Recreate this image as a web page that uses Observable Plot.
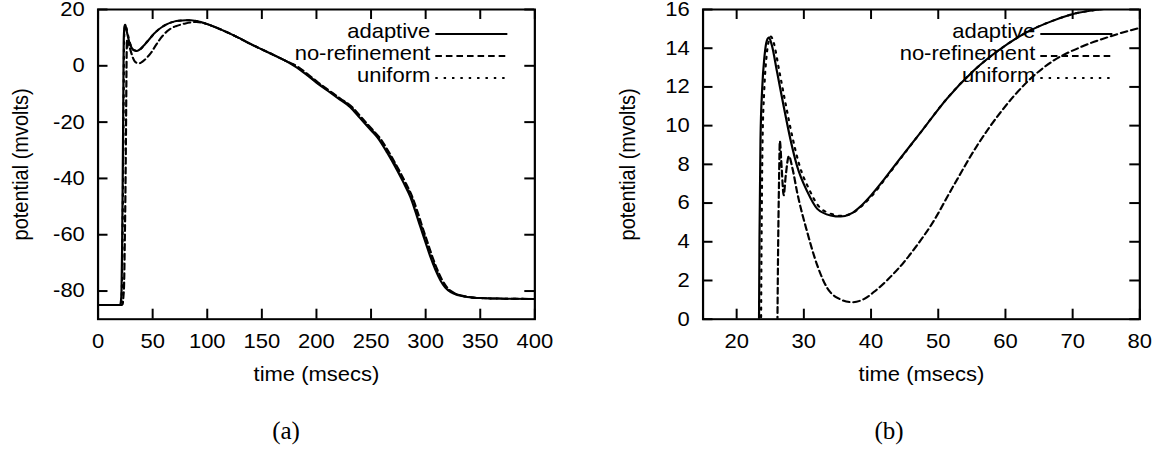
<!DOCTYPE html>
<html><head><meta charset="utf-8">
<script src="https://cdn.jsdelivr.net/npm/d3@7"></script>
<script src="https://cdn.jsdelivr.net/npm/@observablehq/plot@0.6"></script>
<style>
html,body{margin:0;padding:0;background:#fff;}
#wrap{position:relative;width:1168px;height:455px;overflow:hidden;background:#fff;}
.panel{position:absolute;top:0;}
.cap{position:absolute;font-family:"Liberation Serif","DejaVu Serif",serif;font-size:25px;color:#000;transform:translate(-50%,-50%);line-height:1;white-space:nowrap;}
</style></head><body>
<div id="wrap"></div>
<script>
// ---- data ----
const seriesNames = ["adaptive", "no-refinement", "uniform"];

const adaptiveT = [0,19,20.3,21,21.5,22,22.5,23,23.3,23.4,23.55,23.8,24.15,24.5,24.8,25.2,26,27,28,29,30.5,32,34,35.5,37,38.5,40,42,44,47.4,51.3,55.3,59.3,63.2,67.2,70.2,74,80,85,90,100,110,120,130,140,150,160,170,180,190,200,210,220,231,240,250,256,265,274,280,286,290,295,300,304.5,309,313.5,318,323,330,338,350,370,400];
const adaptiveV = [-85,-85,-84.8,-83.5,-80,-66,-45,-20,-2,4.2,9.3,11.9,13.6,14.4,14.55,14.2,12.8,11.0,9.3,7.9,6.6,5.7,5.36,5.3,5.45,5.85,6.4,7.25,8.15,9.66,11.4,12.85,13.97,14.83,15.44,15.78,16.0,16.15,16.15,15.9,14.8,13.3,11.6,9.7,7.7,5.8,4.0,2.1,-0.1,-2.9,-6.0,-8.8,-11.6,-14.7,-18.6,-22.9,-25.5,-31,-37.2,-41.7,-46.6,-51,-57,-62.8,-68,-72.5,-76.2,-78.8,-80.4,-81.5,-82.1,-82.5,-82.7,-82.8];

const noRefT = [0,21.5,22.5,23.2,23.8,24.5,25.2,25.7,26.05,26.15,26.3,26.43,26.7,27,27.3,27.77,28.3,29,30.5,32,33.5,35,37.2,39,40.4,42.5,44.9,46.8,48.9,52.3,55.8,59.3,63.2,67.2,71.2,75.5,80,85,90,95,100,110,120,130,140,150,160,170,181.8,191.8,201.8,211.8,221.8,232.8,241.8,251.8,257.8,266.8,275.8,281.8,287.8,291.8,296.8,301.8,306.3,310.8,315.3,319.8,324.8,331.8,339.8,351.8,371.8,400];
const noRefV = [-85,-85,-84.6,-82,-78,-62,-40,-18,-1,3,7,9.2,7.8,6.4,7.4,8.43,7.8,6.56,4.5,2.78,1.6,1.1,0.88,1.05,1.4,2.05,2.95,3.8,4.84,6.91,8.98,10.7,12.25,13.37,14.06,14.6,15.05,15.4,15.55,15.35,14.8,13.3,11.6,9.7,7.7,5.8,4.0,2.1,-0.1,-2.9,-6.0,-8.8,-11.6,-14.7,-18.6,-22.9,-25.5,-31,-37.2,-41.7,-46.6,-51,-57,-62.8,-68,-72.5,-76.2,-78.8,-80.4,-81.5,-82.1,-82.5,-82.7,-82.8];

const uniformT = [0,19.3,20.6,21.3,21.8,22.3,22.8,23.3,23.6,23.7,23.85,24.1,24.45,24.8,25.1,25.5,26.3,27.3,28.3,29.3,30.8,32.3,34.3,35.7,37.2,38.7,40.2,42,44,47.4,51.3,55.3,59.3,63.2,67.2,70.2,74,80,85,90,100,110,120,130,140,150,160,170,181,191,201,211,221,232,241,251,257,266,275,281,287,291,296,301,305.5,310,314.5,319,324,331,339,351,371,400];
const uniformV = [-85,-85,-84.8,-83.5,-80,-66,-45,-20,-2,4,9.2,11.8,13.6,14.4,14.6,14.3,12.9,11.1,9.4,8.0,6.7,5.8,5.42,5.34,5.47,5.87,6.4,7.2,8.12,9.66,11.4,12.85,13.97,14.83,15.44,15.78,16.0,16.15,16.15,15.9,14.8,13.3,11.6,9.7,7.7,5.8,4.0,2.1,-0.1,-2.9,-6.0,-8.8,-11.6,-14.7,-18.6,-22.9,-25.5,-31,-37.2,-41.7,-46.6,-51,-57,-62.8,-68,-72.5,-76.2,-78.8,-80.4,-81.5,-82.1,-82.5,-82.7,-82.8];

const panelAXTicks = [0,50,100,150,200,250,300,350,400];
const panelAYTicks = [-80,-60,-40,-20,0,20];
const panelBXTicks = [20,30,40,50,60,70,80];
const panelBYTicks = [0,2,4,6,8,10,12,14,16];
const xLabel = "time (msecs)";
const yLabel = "potential (mvolts)";
const captions = ["(a)", "(b)"];

// ---- table ----
const rows = [];
[[adaptiveT, adaptiveV, seriesNames[0]], [noRefT, noRefV, seriesNames[1]], [uniformT, uniformV, seriesNames[2]]]
  .forEach(([T, V, s]) => T.forEach((t, i) => rows.push({series: s, t, v: V[i]})));

const dashes = {"adaptive": null, "no-refinement": "6,3.6", "uniform": "2.2,5.4"};
const FONT = "'Liberation Sans', Arial, Helvetica, sans-serif";
const SX = 1.1, W = 584, H = 395, Wp = W / SX;

function panel({xDomain, yDomain, xTicks, yTicks, mLeft, mRight, yLabelDx}) {
  const mTop = 9, mBottom = H - 318.7;
  const plotW = Wp - mLeft - mRight, plotH = H - mTop - mBottom;
  const marks = [
    Plot.axisX(xTicks, {anchor: "bottom", tickSize: 0, tickPadding: 14.5, fontSize: 20, tickFormat: d => String(d), label: null}),
    Plot.axisY(yTicks, {anchor: "left", tickSize: 0, tickPadding: 12, fontSize: 20, tickFormat: d => String(d), label: null}),
    Plot.tickX(xTicks, {x: d => d, insetTop: plotH - 10, stroke: "#000", strokeWidth: 1.8}),
    Plot.tickX(xTicks, {x: d => d, insetBottom: plotH - 10, stroke: "#000", strokeWidth: 1.8}),
    Plot.tickY(yTicks, {y: d => d, insetRight: plotW - 10 / SX, stroke: "#000", strokeWidth: 2}),
    Plot.tickY(yTicks, {y: d => d, insetLeft: plotW - 10 / SX, stroke: "#000", strokeWidth: 2}),
    Plot.text([xLabel], {frameAnchor: "bottom", dy: 55, text: d => d, fontSize: 20, lineAnchor: "middle", textAnchor: "middle"}),
    Plot.text([yLabel], {frameAnchor: "left", dx: yLabelDx, rotate: -90, text: d => d, fontSize: 20, lineAnchor: "middle", textAnchor: "middle"}),
    ...seriesNames.map(s => Plot.line(rows.filter(r => r.series === s), {
      x: "t", y: "v", stroke: "#000", strokeWidth: 2, strokeDasharray: dashes[s],
      curve: "monotone-x", clip: true
    })),
    Plot.frame({stroke: "#000", strokeWidth: 2})
  ];
  const svg = Plot.plot({
    width: Wp, height: H,
    marginLeft: mLeft, marginRight: mRight, marginTop: mTop, marginBottom: mBottom,
    x: {type: "linear", domain: xDomain},
    y: {type: "linear", domain: yDomain},
    style: {fontFamily: FONT, fontSize: "20px", color: "#000", background: "#fff", overflow: "visible"},
    marks
  });
  // legend
  const g = d3.select(svg).append("g");
  const fr = Wp - mRight;
  seriesNames.forEach((name, i) => {
    const base = 38.5 + 22 * i;
    g.append("text").attr("x", fr - 94.5).attr("y", base).attr("text-anchor", "end")
      .attr("font-size", 20).attr("font-family", FONT).attr("fill", "#000").text(name);
    g.append("line").attr("x1", fr - 90).attr("x2", fr - 24.5).attr("y1", base - 4.5).attr("y2", base - 4.5)
      .attr("stroke", "#000").attr("stroke-width", 2).attr("stroke-dasharray", dashes[name]);
  });
  svg.setAttribute("viewBox", `0 0 ${Wp} ${H}`);
  svg.setAttribute("width", W);
  svg.setAttribute("height", H);
  svg.setAttribute("preserveAspectRatio", "none");
  svg.style.width = W + "px";
  svg.style.height = H + "px";
  svg.style.maxWidth = "none";
  return svg;
}

const wrap = document.getElementById("wrap");
const a = panel({xDomain: [0, 400], yDomain: [-90, 20], xTicks: panelAXTicks, yTicks: panelAYTicks,
  mLeft: 97.5 / SX, mRight: (W - 534.3) / SX, yLabelDx: 20 / SX - 97.5 / SX});
const b = panel({xDomain: [15, 80], yDomain: [0, 16], xTicks: panelBXTicks, yTicks: panelBYTicks,
  mLeft: (702.5 - W) / SX, mRight: (1168 - 1139.3) / SX, yLabelDx: (627 - 702.5) / SX});
const da = document.createElement("div"); da.className = "panel"; da.style.left = "0px"; da.appendChild(a);
const db = document.createElement("div"); db.className = "panel"; db.style.left = W + "px"; db.appendChild(b);
wrap.appendChild(da); wrap.appendChild(db);
[[captions[0], 286], [captions[1], 889]].forEach(([c, x]) => {
  const d = document.createElement("div"); d.className = "cap"; d.textContent = c;
  d.style.left = x + "px"; d.style.top = "430px"; wrap.appendChild(d);
});
</script>
</body></html>
